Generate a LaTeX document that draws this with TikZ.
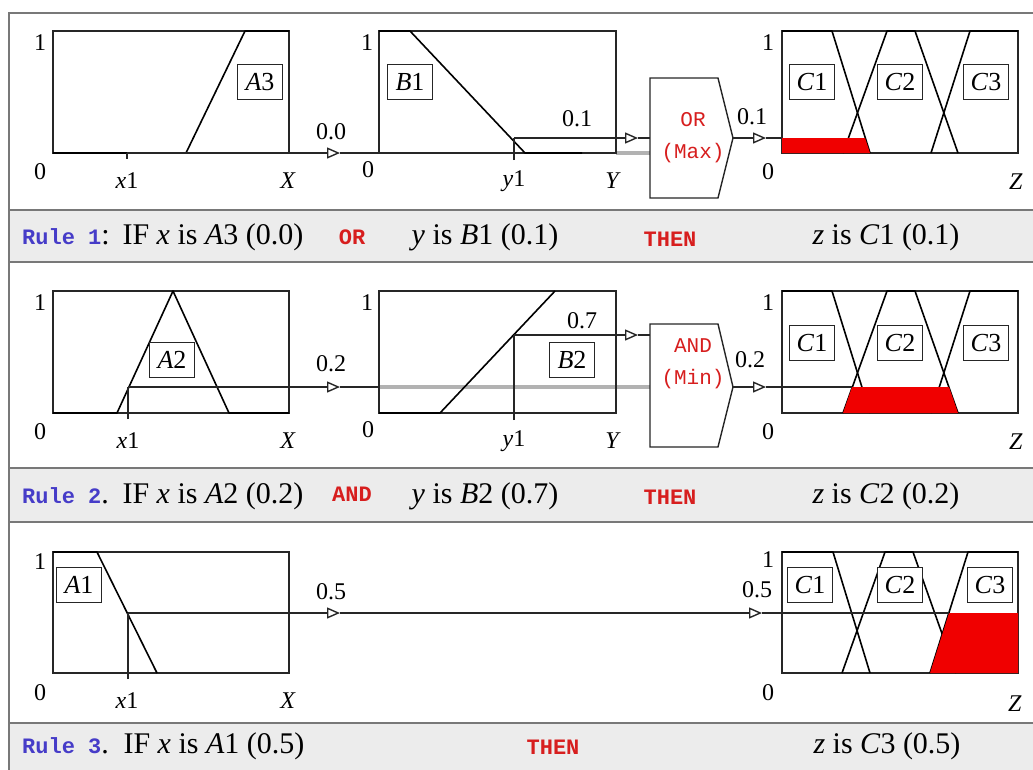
\documentclass[tikz,border=0pt]{standalone}
\usepackage{fontspec}
\setmainfont{Liberation Serif}
\setmonofont{Liberation Mono}
\usetikzlibrary{arrows.meta}
\definecolor{redfill}{RGB}{240,0,0}
\definecolor{opred}{RGB}{215,30,30}
\definecolor{ruleblue}{RGB}{70,60,200}
\definecolor{barfill}{RGB}{236,236,236}
\definecolor{barline}{RGB}{120,120,120}
\begin{document}
\begin{tikzpicture}[x=1pt,y=-1pt,
  panel/.style={draw=black!85, line width=1.3pt},
  mf/.style={draw=black, line width=1.6pt, line join=round},
  lbox/.style={draw=black!85, line width=1.2pt, fill=white, minimum width=45pt, minimum height=35pt, inner sep=0pt, font=\fontsize{26}{26}\selectfont},
  axlab/.style={font=\fontsize{24}{24}\selectfont, inner sep=0pt},
  flow/.style={draw=black!85, line width=1.2pt},
  tipped/.style={flow, -{Triangle[open, length=13pt, width=11pt, line width=1.4pt]}},
  ghost/.style={draw=black!30, line width=4pt},
  opbox/.style={draw=black!85, line width=1.4pt, fill=white},
  optext/.style={text=opred, font=\ttfamily\fontsize{21}{32}\selectfont, align=center, inner sep=0pt},
  bar/.style={fill=barfill, draw=barline, line width=2pt},
  rtext/.style={font=\fontsize{30}{30}\selectfont, inner sep=0pt},
  rmono/.style={font=\ttfamily\bfseries\fontsize{22}{22}\selectfont, inner sep=0pt},
  redarea/.style={fill=redfill, draw=none},
]
\useasboundingbox (0,0) rectangle (1033,769);

% ---------- rule bars and frame ----------
\path[bar] (9,210) rectangle (1045,262);
\path[bar] (9,468) rectangle (1045,522);
\path[bar] (9,723) rectangle (1045,780);
\draw[barline, line width=2pt] (1045,13) -- (9,13) -- (9,780);

% ================= RULE 1 =================
% A3 panel
\draw[panel] (53,31) rectangle (289,153);
\draw[mf] (53,153) -- (186,153) -- (245,31) -- (289,31);
\draw[flow] (127,153) -- (127,159);
\node[lbox] (a3) at (260,82) {\textit{A}3};
% B1 panel
\draw[ghost] (616,153) -- (650,153);
\draw[panel] (379,31) rectangle (616,153);
\draw[mf] (379,31) -- (410,31) -- (525,153) -- (582,153);
\node[lbox] (b1) at (410,82) {\textit{B}1};
\coordinate (x1a) at (127,153);
\coordinate (tipA1) at (340,153);
\coordinate (binA1) at (379,153);
\draw[tipped] (x1a) -- (tipA1);
\draw[flow] (tipA1) -- (binA1);
\coordinate (y1a) at (514,138);
\coordinate (tipB1) at (638,138);
\coordinate (op1in) at (650,138);
\draw[flow] (514,160) -- (y1a);
\draw[tipped] (y1a) -- (tipB1);
\draw[flow] (tipB1) -- (op1in);
% OR box
\draw[opbox] (650,78) -- (718,78) -- (733,138) -- (718,198) -- (650,198) -- cycle;
\coordinate (op1out) at (733,138);
\node[optext] (op1) at (693,138) {OR\\(Max)};
% C panel
\draw[panel] (782,31) rectangle (1018,153);
\draw[mf] (782,31) -- (832,31) -- (870,153);
\draw[mf] (843,153) -- (887,31) -- (915,31) -- (958,153);
\draw[mf] (931,153) -- (970,31) -- (1018,31);
\fill[redarea] (782,138) -- (865,138) -- (870,153) -- (782,153) -- cycle;
\node[lbox] (c11) at (812,82) {\textit{C}1};
\node[lbox] (c12) at (900,82) {\textit{C}2};
\node[lbox] (c13) at (986,82) {\textit{C}3};
\coordinate (tipO1) at (766,138);
\coordinate (cin1) at (782,138);
\draw[tipped] (op1out) -- (tipO1);
\draw[flow] (tipO1) -- (cin1);
% labels
\node[axlab] (l11) at (40,43) {1};
\node[axlab] (l12) at (40,172) {0};
\node[axlab] (l13) at (127,181) {\textit{x}1};
\node[axlab] (l14) at (288,181) {\textit{X}};
\node[axlab] (l15) at (331,132) {0.0};
\node[axlab] (l16) at (367,43) {1};
\node[axlab] (l17) at (368,170) {0};
\node[axlab] (l18) at (514,181) {\textit{y}1};
\node[axlab] (l19) at (613,181) {\textit{Y}};
\node[axlab] (l110) at (577,119) {0.1};
\node[axlab] (l111) at (768,43) {1};
\node[axlab] (l112) at (752,117) {0.1};
\node[axlab] (l113) at (768,172) {0};
\node[axlab] (l114) at (1016,182) {\textit{Z}};
% rule text
\node[rmono, anchor=west] (r1a) at (22,237) {\textcolor{ruleblue}{Rule 1}\textrm{\mdseries\fontsize{30}{30}\selectfont:}};
\node[rtext] (r1b) at (213,237) {IF \textit{x} is \textit{A}3 (0.0)};
\node[rmono, text=opred] (r1c) at (352,237) {OR};
\node[rtext] (r1d) at (485,237) {\textit{y} is \textit{B}1 (0.1)};
\node[rmono, text=opred] (r1e) at (670,239) {THEN};
\node[rtext] (r1f) at (886,237) {\textit{z} is \textit{C}1 (0.1)};

% ================= RULE 2 =================
\draw[panel] (53,291) rectangle (289,413);
\draw[mf] (53,413) -- (117,413) -- (173,291) -- (229,413) -- (289,413);
\node[lbox] (a2) at (172,360) {\textit{A}2};
\draw[ghost] (379,387) -- (650,387);
\draw[panel] (379,291) rectangle (616,413);
\draw[mf] (379,413) -- (440,413) -- (555,291);
\node[lbox] (b2) at (572,360) {\textit{B}2};
\coordinate (x1b) at (128,387);
\coordinate (tipA2) at (340,387);
\coordinate (binA2) at (379,387);
\draw[flow] (128,419) -- (x1b);
\draw[tipped] (x1b) -- (tipA2);
\draw[flow] (tipA2) -- (binA2);
\coordinate (y1b) at (514,335);
\coordinate (tipB2) at (638,335);
\coordinate (op2in) at (650,335);
\draw[flow] (514,420) -- (y1b);
\draw[tipped] (y1b) -- (tipB2);
\draw[flow] (tipB2) -- (op2in);
% AND box
\draw[opbox] (650,324) -- (718,324) -- (733,387) -- (718,447) -- (650,447) -- cycle;
\coordinate (op2out) at (733,387);
\node[optext] (op2) at (693,364) {AND\\(Min)};
% C panel
\draw[panel] (782,291) rectangle (1018,413);
\draw[mf] (782,291) -- (832,291) -- (870,413);
\draw[mf] (843,413) -- (887,291) -- (915,291) -- (958,413);
\draw[mf] (931,413) -- (970,291) -- (1018,291);
\fill[redarea] (843,413) -- (852,387) -- (949,387) -- (958,413) -- cycle;
\node[lbox] (c21) at (812,343) {\textit{C}1};
\node[lbox] (c22) at (900,343) {\textit{C}2};
\node[lbox] (c23) at (986,343) {\textit{C}3};
\coordinate (tipO2) at (766,387);
\coordinate (cut2) at (852,387);
\draw[tipped] (op2out) -- (tipO2);
\draw[flow] (tipO2) -- (cut2);
% labels
\node[axlab] (l21) at (40,303) {1};
\node[axlab] (l22) at (40,432) {0};
\node[axlab] (l23) at (128,441) {\textit{x}1};
\node[axlab] (l24) at (288,441) {\textit{X}};
\node[axlab] (l25) at (331,364) {0.2};
\node[axlab] (l26) at (367,303) {1};
\node[axlab] (l27) at (368,430) {0};
\node[axlab] (l28) at (514,441) {\textit{y}1};
\node[axlab] (l29) at (613,441) {\textit{Y}};
\node[axlab] (l210) at (582,321) {0.7};
\node[axlab] (l211) at (768,303) {1};
\node[axlab] (l212) at (750,360) {0.2};
\node[axlab] (l213) at (768,432) {0};
\node[axlab] (l214) at (1016,442) {\textit{Z}};
% rule text
\node[rmono, anchor=west] (r2a) at (22,496) {\textcolor{ruleblue}{Rule 2}\textrm{\mdseries\fontsize{30}{30}\selectfont.}};
\node[rtext] (r2b) at (213,496) {IF \textit{x} is \textit{A}2 (0.2)};
\node[rmono, text=opred] (r2c) at (352,494) {AND};
\node[rtext] (r2d) at (485,496) {\textit{y} is \textit{B}2 (0.7)};
\node[rmono, text=opred] (r2e) at (670,497) {THEN};
\node[rtext] (r2f) at (886,496) {\textit{z} is \textit{C}2 (0.2)};

% ================= RULE 3 =================
\draw[panel] (53,552) rectangle (289,673);
\draw[mf] (53,552) -- (97,552) -- (157,673);
\node[lbox] (a1) at (79,585) {\textit{A}1};
\draw[panel] (782,552) rectangle (1018,673);
\draw[mf] (782,552) -- (833,552) -- (870,673);
\draw[mf] (842,673) -- (885,552) -- (913,552) -- (956,673);
\draw[mf] (930,673) -- (968,552) -- (1018,552);
\fill[redarea] (930,673) -- (949,613) -- (1018,613) -- (1018,673) -- cycle;
\node[lbox] (c31) at (810,585) {\textit{C}1};
\node[lbox] (c32) at (900,585) {\textit{C}2};
\node[lbox] (c33) at (990,585) {\textit{C}3};
\coordinate (x1c) at (128,613);
\coordinate (tipA3) at (340,613);
\coordinate (tipO3) at (762,613);
\coordinate (cut3) at (949,613);
\draw[flow] (128,679) -- (x1c);
\draw[tipped] (x1c) -- (tipA3);
\draw[tipped] (tipA3) -- (tipO3);
\draw[flow] (tipO3) -- (cut3);
% labels
\node[axlab] (l31) at (40,562) {1};
\node[axlab] (l32) at (40,693) {0};
\node[axlab] (l33) at (127,701) {\textit{x}1};
\node[axlab] (l34) at (288,701) {\textit{X}};
\node[axlab] (l35) at (331,592) {0.5};
\node[axlab] (l36) at (768,560) {1};
\node[axlab] (l37) at (757,590) {0.5};
\node[axlab] (l38) at (768,693) {0};
\node[axlab] (l39) at (1015,704) {\textit{Z}};
% rule text
\node[rmono, anchor=west] (r3a) at (22,746) {\textcolor{ruleblue}{Rule 3}\textrm{\mdseries\fontsize{30}{30}\selectfont.}};
\node[rtext] (r3b) at (214,746) {IF \textit{x} is \textit{A}1 (0.5)};
\node[rmono, text=opred] (r3e) at (553,747) {THEN};
\node[rtext] (r3f) at (887,746) {\textit{z} is \textit{C}3 (0.5)};
\end{tikzpicture}
\end{document}
